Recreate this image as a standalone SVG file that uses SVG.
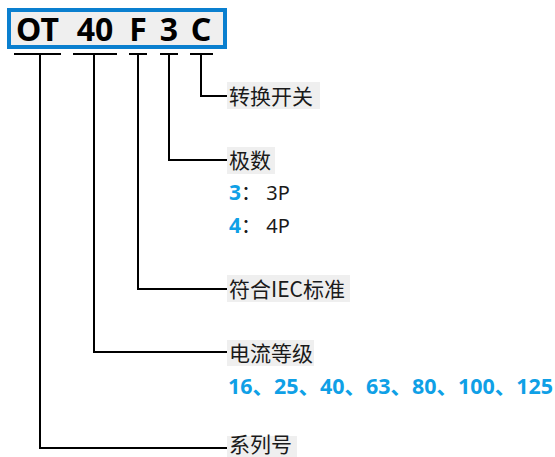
<svg xmlns="http://www.w3.org/2000/svg" width="555" height="457" viewBox="0 0 555 457">
<style>
.code{font-family:"Noto Sans","DejaVu Sans",sans-serif;font-weight:bold;font-size:32px;fill:#000;text-anchor:middle}
.lbl{font-family:"Noto Sans CJK SC","Noto Sans",sans-serif;font-size:21px;fill:#1a1a1a}
.lblbg{fill:#efefef}
.blue{font-family:"Noto Sans","Noto Sans CJK SC",sans-serif;font-weight:bold;font-size:21px;fill:#0fa0e6}
.val{font-family:"Noto Sans","Noto Sans CJK SC",sans-serif;font-size:20px;fill:#1a1a1a}
.ln{fill:none;stroke:#000;stroke-width:2}
</style>
<rect width="555" height="457" fill="#fff"/>
<g id="code">
<rect x="9" y="10" width="216" height="37" fill="#efefef" stroke="#0a7fcf" stroke-width="4"/>
<text class="code" x="37.5" y="41">OT</text>
<text class="code" x="95" y="41">40</text>
<text class="code" x="138" y="41">F</text>
<text class="code" x="169" y="41">3</text>
<text class="code" x="201" y="41">C</text>
</g>
<g id="connectors">
<path class="ln" d="M14 54H61M73 54H117M129 54H147M160 54H178M190 54H213"/>
<path class="ln" d="M201 54V96H227"/>
<path class="ln" d="M169 54V160H227"/>
<path class="ln" d="M138 54V289H227"/>
<path class="ln" d="M94 54V352H227"/>
<path class="ln" d="M40 54V448H227"/>
</g>
<g id="n-switch">
<rect class="lblbg" x="227" y="82" width="93" height="27"/>
<text class="lbl" x="229" y="104">转换开关</text>
</g>
<g id="n-poles">
<rect class="lblbg" x="227" y="147" width="48" height="27"/>
<text class="lbl" x="229" y="168">极数</text>
<text x="229" y="200"><tspan class="blue">3</tspan><tspan class="val">：  3P</tspan></text>
<text x="229" y="233"><tspan class="blue">4</tspan><tspan class="val">：  4P</tspan></text>
</g>
<g id="n-iec">
<rect class="lblbg" x="227" y="275" width="123" height="27"/>
<text class="lbl" x="229" y="297" textLength="116" lengthAdjust="spacing">符合IEC标准</text>
</g>
<g id="n-current">
<rect class="lblbg" x="227" y="340" width="87" height="26"/>
<text class="lbl" x="229" y="361">电流等级</text>
<text class="blue" x="228" y="394" textLength="325" lengthAdjust="spacingAndGlyphs">16、25、40、63、80、100、125</text>
</g>
<g id="n-series">
<rect class="lblbg" x="227" y="436" width="70" height="21"/>
<text class="lbl" x="229" y="452">系列号</text>
</g>
</svg>
